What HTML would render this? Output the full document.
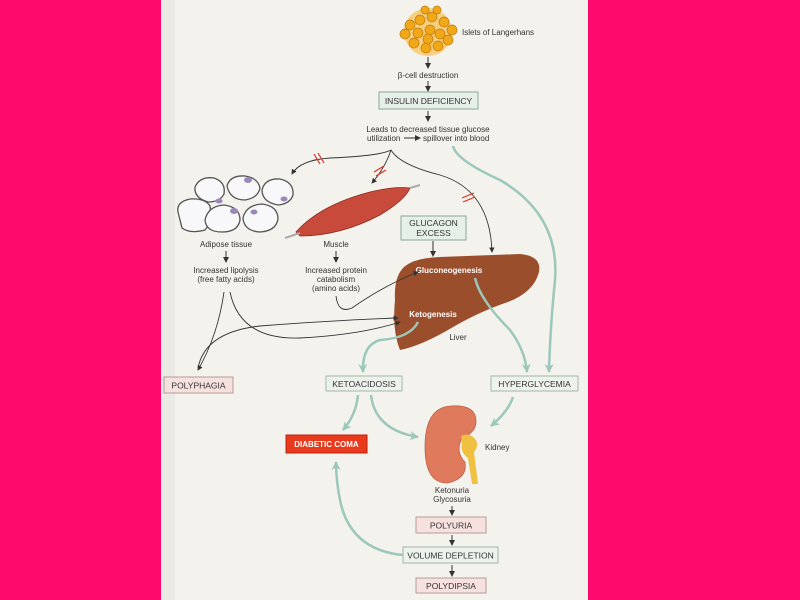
<!DOCTYPE html>
<html><head><meta charset="utf-8"><style>
html,body{margin:0;padding:0;background:#fe0a6c;}
svg{display:block}
text{font-family:"Liberation Sans",sans-serif;font-size:8px;fill:#333}
.b{font-size:8.5px}
</style></head><body>
<svg width="800" height="600" viewBox="0 0 800 600">
<defs>
<marker id="a" markerWidth="6" markerHeight="6" refX="5" refY="3" orient="auto"><path d="M0,0 L6,3 L0,6 z" fill="#333"/></marker>
<marker id="g" markerWidth="9" markerHeight="9" refX="8" refY="4.5" orient="auto" markerUnits="userSpaceOnUse" viewBox="0 0 9 9"><path d="M0,0 L9,4.5 L0,9 L2.5,4.5 z" fill="#9cc8bc"/></marker>
</defs>
<rect x="0" y="0" width="800" height="600" fill="#fe0a6c"/>
<rect x="161" y="0" width="427" height="600" fill="#f3f2ec"/>
<rect x="161" y="0" width="14" height="600" fill="#ebeae5"/>
<!-- islets -->
<g fill="#f0a818" stroke="#c07808" stroke-width="0.7">
<circle cx="428" cy="32" r="24" fill="#f6d080" stroke="none"/>
<circle cx="410" cy="25" r="5"/><circle cx="420" cy="20" r="5"/><circle cx="432" cy="17" r="5"/><circle cx="444" cy="22" r="5"/><circle cx="452" cy="30" r="5"/><circle cx="448" cy="40" r="5"/><circle cx="438" cy="46" r="5"/><circle cx="426" cy="48" r="5"/><circle cx="414" cy="43" r="5"/><circle cx="405" cy="34" r="5"/><circle cx="418" cy="33" r="5"/><circle cx="430" cy="30" r="5"/><circle cx="440" cy="34" r="5"/><circle cx="428" cy="39" r="5"/><circle cx="425" cy="10" r="4"/><circle cx="437" cy="10" r="4"/>
</g>
<text x="462" y="35">Islets of Langerhans</text>
<line x1="428" y1="57" x2="428" y2="68" stroke="#333" marker-end="url(#a)"/>
<text x="428" y="78" text-anchor="middle">β-cell destruction</text>
<line x1="428" y1="81" x2="428" y2="91" stroke="#333" marker-end="url(#a)"/>
<rect x="379" y="92" width="99" height="17" fill="#e6efe8" stroke="#8aa79a"/>
<text x="428.5" y="104" text-anchor="middle" class="b">INSULIN DEFICIENCY</text>
<line x1="428" y1="111" x2="428" y2="121" stroke="#333" marker-end="url(#a)"/>
<text x="428" y="132" text-anchor="middle">Leads to decreased tissue glucose</text>
<text x="367" y="141">utilization</text><line x1="404" y1="138" x2="420" y2="138" stroke="#333" marker-end="url(#a)"/>
<text x="423" y="141">spillover into blood</text>
<path d="M453,146 Q456,160 500,180 Q560,215 555,280 Q550,330 549,372" fill="none" stroke="#9cc8bc" stroke-width="2.5" marker-end="url(#g)"/>
<g fill="none" stroke="#333" stroke-width="0.9">
<path d="M391,150 Q380,156 330,158 Q300,160 292,174" marker-end="url(#a)"/>
<path d="M391,150 Q385,168 372,183" marker-end="url(#a)"/>
<path d="M391,150 Q400,165 440,175 Q490,190 492,252" marker-end="url(#a)"/>
</g>
<g stroke="#e03020" stroke-width="1.2"><line x1="314" y1="154" x2="320" y2="164"/><line x1="318" y1="153" x2="324" y2="163"/>
<line x1="374" y1="172" x2="384" y2="166"/><line x1="376" y1="176" x2="386" y2="170"/>
<line x1="462" y1="198" x2="474" y2="193"/><line x1="463" y1="202" x2="475" y2="197"/></g>
<!-- adipose -->
<g fill="#f8f8fb" stroke="#555" stroke-width="1.3">
<path d="M178,212 Q176,202 190,199 Q205,198 210,206 Q212,222 205,230 Q190,234 182,228 Z"/>
<path d="M227,186 Q230,175 245,176 Q258,178 260,188 Q258,198 245,200 Q230,200 227,186 Z"/>
<path d="M262,190 Q265,178 280,179 Q294,182 293,195 Q290,204 278,205 Q262,202 262,190 Z"/>
<path d="M195,187 Q200,176 214,178 Q226,182 224,194 Q220,202 208,202 Q194,198 195,187 Z"/>
<path d="M205,220 Q208,206 224,205 Q240,207 240,220 Q238,232 222,232 Q206,232 205,220 Z"/>
<path d="M243,218 Q246,205 262,204 Q278,206 278,219 Q276,231 260,232 Q244,231 243,218 Z"/>
</g>
<g fill="#9a88b8"><ellipse cx="248" cy="180" rx="4" ry="3"/><ellipse cx="219" cy="201" rx="3.5" ry="2.5"/><ellipse cx="234" cy="211" rx="4" ry="3"/><ellipse cx="254" cy="212" rx="3.5" ry="2.5"/><ellipse cx="284" cy="199" rx="3.5" ry="2.5"/></g>
<!-- muscle -->
<path d="M296,232 Q320,205 370,192 Q395,186 410,188 Q405,200 380,215 Q340,236 300,236 z" fill="#c84a3a" stroke="#8a2a20" stroke-width="0.8"/>
<path d="M285,238 L300,233 M410,188 L420,185" stroke="#aaa" stroke-width="2"/>
<text x="226" y="247" text-anchor="middle">Adipose tissue</text>
<text x="336" y="247" text-anchor="middle">Muscle</text>
<line x1="226" y1="251" x2="226" y2="262" stroke="#333" marker-end="url(#a)"/>
<line x1="336" y1="251" x2="336" y2="262" stroke="#333" marker-end="url(#a)"/>
<text x="226" y="273" text-anchor="middle">Increased lipolysis</text>
<text x="226" y="282" text-anchor="middle">(free fatty acids)</text>
<text x="336" y="273" text-anchor="middle">Increased protein</text>
<text x="336" y="282" text-anchor="middle">catabolism</text>
<text x="336" y="291" text-anchor="middle">(amino acids)</text>
<rect x="401" y="216" width="65" height="24" fill="#e6efe8" stroke="#8aa79a"/>
<text x="433.5" y="226" text-anchor="middle" class="b">GLUCAGON</text>
<text x="433.5" y="236" text-anchor="middle" class="b">EXCESS</text>
<line x1="433" y1="241" x2="433" y2="256" stroke="#333" marker-end="url(#a)"/>
<!-- liver -->
<path d="M400,272 Q408,258 440,257 L520,254 Q542,256 539,272 Q534,292 508,302 Q478,312 448,330 Q420,346 400,350 Q392,330 395,300 Q394,282 400,272 z" fill="#9b4e2c"/>
<text x="449" y="273" text-anchor="middle" style="fill:#fff;font-weight:bold">Gluconeogenesis</text>
<text x="433" y="317" text-anchor="middle" style="fill:#fff;font-weight:bold">Ketogenesis</text>
<text x="458" y="340" text-anchor="middle">Liver</text>
<g fill="none" stroke="#333" stroke-width="0.9">
<path d="M224,292 Q218,335 198,370" marker-end="url(#a)"/>
<path d="M230,292 Q240,340 300,338 Q360,335 400,322" marker-end="url(#a)"/>
<path d="M336,296 Q338,314 352,308 Q385,285 418,272" marker-end="url(#a)"/>
<path d="M198,368 Q205,332 260,326 Q340,320 398,318" marker-end="url(#a)"/>
</g>
<g fill="none" stroke="#9cc8bc" stroke-width="2.5">
<path d="M418,322 Q410,338 380,340 Q362,345 363,372" marker-end="url(#g)"/>
<path d="M475,278 Q480,300 510,330 Q525,350 527,372" marker-end="url(#g)"/>
<path d="M358,395 Q356,415 343,430" marker-end="url(#g)"/>
<path d="M371,395 Q375,430 418,437" marker-end="url(#g)"/>
<path d="M513,397 Q508,412 491,426" marker-end="url(#g)"/>
<path d="M403,555 Q350,550 340,500 Q336,480 336,462" marker-end="url(#g)"/>
</g>
<rect x="164" y="377" width="69" height="16" fill="#f7e1df" stroke="#b59a98"/>
<text x="198.5" y="388.5" text-anchor="middle" class="b">POLYPHAGIA</text>
<rect x="326" y="376" width="76" height="15" fill="#eef2ec" stroke="#9fb5a8"/>
<text x="364" y="387" text-anchor="middle" class="b">KETOACIDOSIS</text>
<rect x="491" y="376" width="87" height="15" fill="#eef2ec" stroke="#9fb5a8"/>
<text x="534.5" y="387" text-anchor="middle" class="b">HYPERGLYCEMIA</text>
<rect x="286" y="435" width="81" height="18" fill="#e83a1c" stroke="#c02010"/>
<text x="326.5" y="447" text-anchor="middle" style="fill:#fff;font-weight:bold">DIABETIC COMA</text>
<path d="M450,406 Q475,404 476,420 Q477,432 462,438 Q455,452 465,462 Q468,478 448,483 Q426,484 425,450 Q424,408 450,406 z" fill="#e07a5c" stroke="#b05038" stroke-width="0.6"/>
<path d="M461,436 Q470,432 476,440 Q479,446 474,452 L478,484 L472,484 L468,458 Q460,452 462,444 z" fill="#f0c040"/>
<text x="485" y="450">Kidney</text>
<text x="452" y="493" text-anchor="middle">Ketonuria</text>
<text x="452" y="502" text-anchor="middle">Glycosuria</text>
<line x1="452" y1="506" x2="452" y2="515" stroke="#333" marker-end="url(#a)"/>
<rect x="416" y="517" width="70" height="16" fill="#f7e1df" stroke="#b59a98"/>
<text x="451" y="528.5" text-anchor="middle" class="b">POLYURIA</text>
<line x1="452" y1="535" x2="452" y2="545" stroke="#333" marker-end="url(#a)"/>
<rect x="403" y="547" width="95" height="16" fill="#eef2ec" stroke="#9fb5a8"/>
<text x="450.5" y="558.5" text-anchor="middle" class="b">VOLUME DEPLETION</text>
<line x1="452" y1="565" x2="452" y2="576" stroke="#333" marker-end="url(#a)"/>
<rect x="416" y="578" width="70" height="15" fill="#f7e1df" stroke="#b59a98"/>
<text x="451" y="589" text-anchor="middle" class="b">POLYDIPSIA</text>
</svg>
</body></html>
